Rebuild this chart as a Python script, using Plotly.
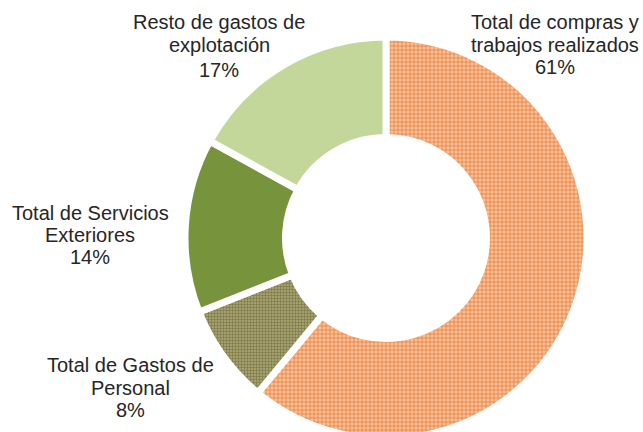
import plotly.graph_objects as go

# ---- data ----
categories = [
    "Total de compras y trabajos realizados",
    "Total de Gastos de Personal",
    "Total de Servicios Exteriores",
    "Resto de gastos de explotación",
]
label_lines = [
    ["Total de compras y", "trabajos realizados"],
    ["Total de Gastos de", "Personal"],
    ["Total de Servicios", "Exteriores"],
    ["Resto de gastos de", "explotación"],
]
values = [61, 8, 14, 17]

# ---- style ----
W, H = 643, 476
fill_colors = ["#F8BF98", "#A39F6E", "#77933C", "#C4D79B"]
pattern_shapes = ["+", "+", "", ""]
pattern_fg = ["#E6732A", "#7A7643", "#77933C", "#C4D79B"]
pattern_size = [4, 3, 8, 8]
pattern_solidity = [0.3, 0.35, 0.3, 0.3]

cx, R = 386, 201
fig = go.Figure(go.Pie(
    labels=categories,
    values=values,
    sort=False,
    direction="clockwise",
    rotation=0,
    hole=0.5,
    textinfo="none",
    hoverinfo="label+percent",
    showlegend=False,
    marker=dict(
        colors=fill_colors,
        line=dict(color="white", width=7),
        pattern=dict(
            shape=pattern_shapes,
            fgcolor=pattern_fg,
            bgcolor=fill_colors,
            size=pattern_size,
            solidity=pattern_solidity,
            fillmode="replace",
        ),
    ),
    domain=dict(x=[(cx - R) / W, (cx + R) / W], y=[0, 1]),
))

# label positions in pixels: (center x, y of each line)
label_pos = [
    (555, [22, 45, 67]),
    (130, [365, 388, 410]),
    (90, [213, 235, 257]),
    (219, [22, 45, 70]),
]
total = sum(values)
annotations = []
for lines, v, (x, ys) in zip(label_lines, values, label_pos):
    texts = lines + [f"{round(v / total * 100)}%"]
    for t, y in zip(texts, ys):
        annotations.append(dict(
            text=t, x=x / W, y=1 - y / H, xref="paper", yref="paper",
            xanchor="center", yanchor="middle", showarrow=False,
            font=dict(family="Liberation Sans, Arial, sans-serif", size=20, color="#262626"),
        ))

fig.update_layout(
    width=W, height=H,
    margin=dict(l=0, r=0, t=0, b=0),
    paper_bgcolor="white",
    plot_bgcolor="white",
    annotations=annotations,
)

fig.write_html(
    "out.html",
    config={"displayModeBar": False},
    post_script="document.body.style.overflow='hidden';document.documentElement.style.overflow='hidden';document.body.style.margin='0';",
)
